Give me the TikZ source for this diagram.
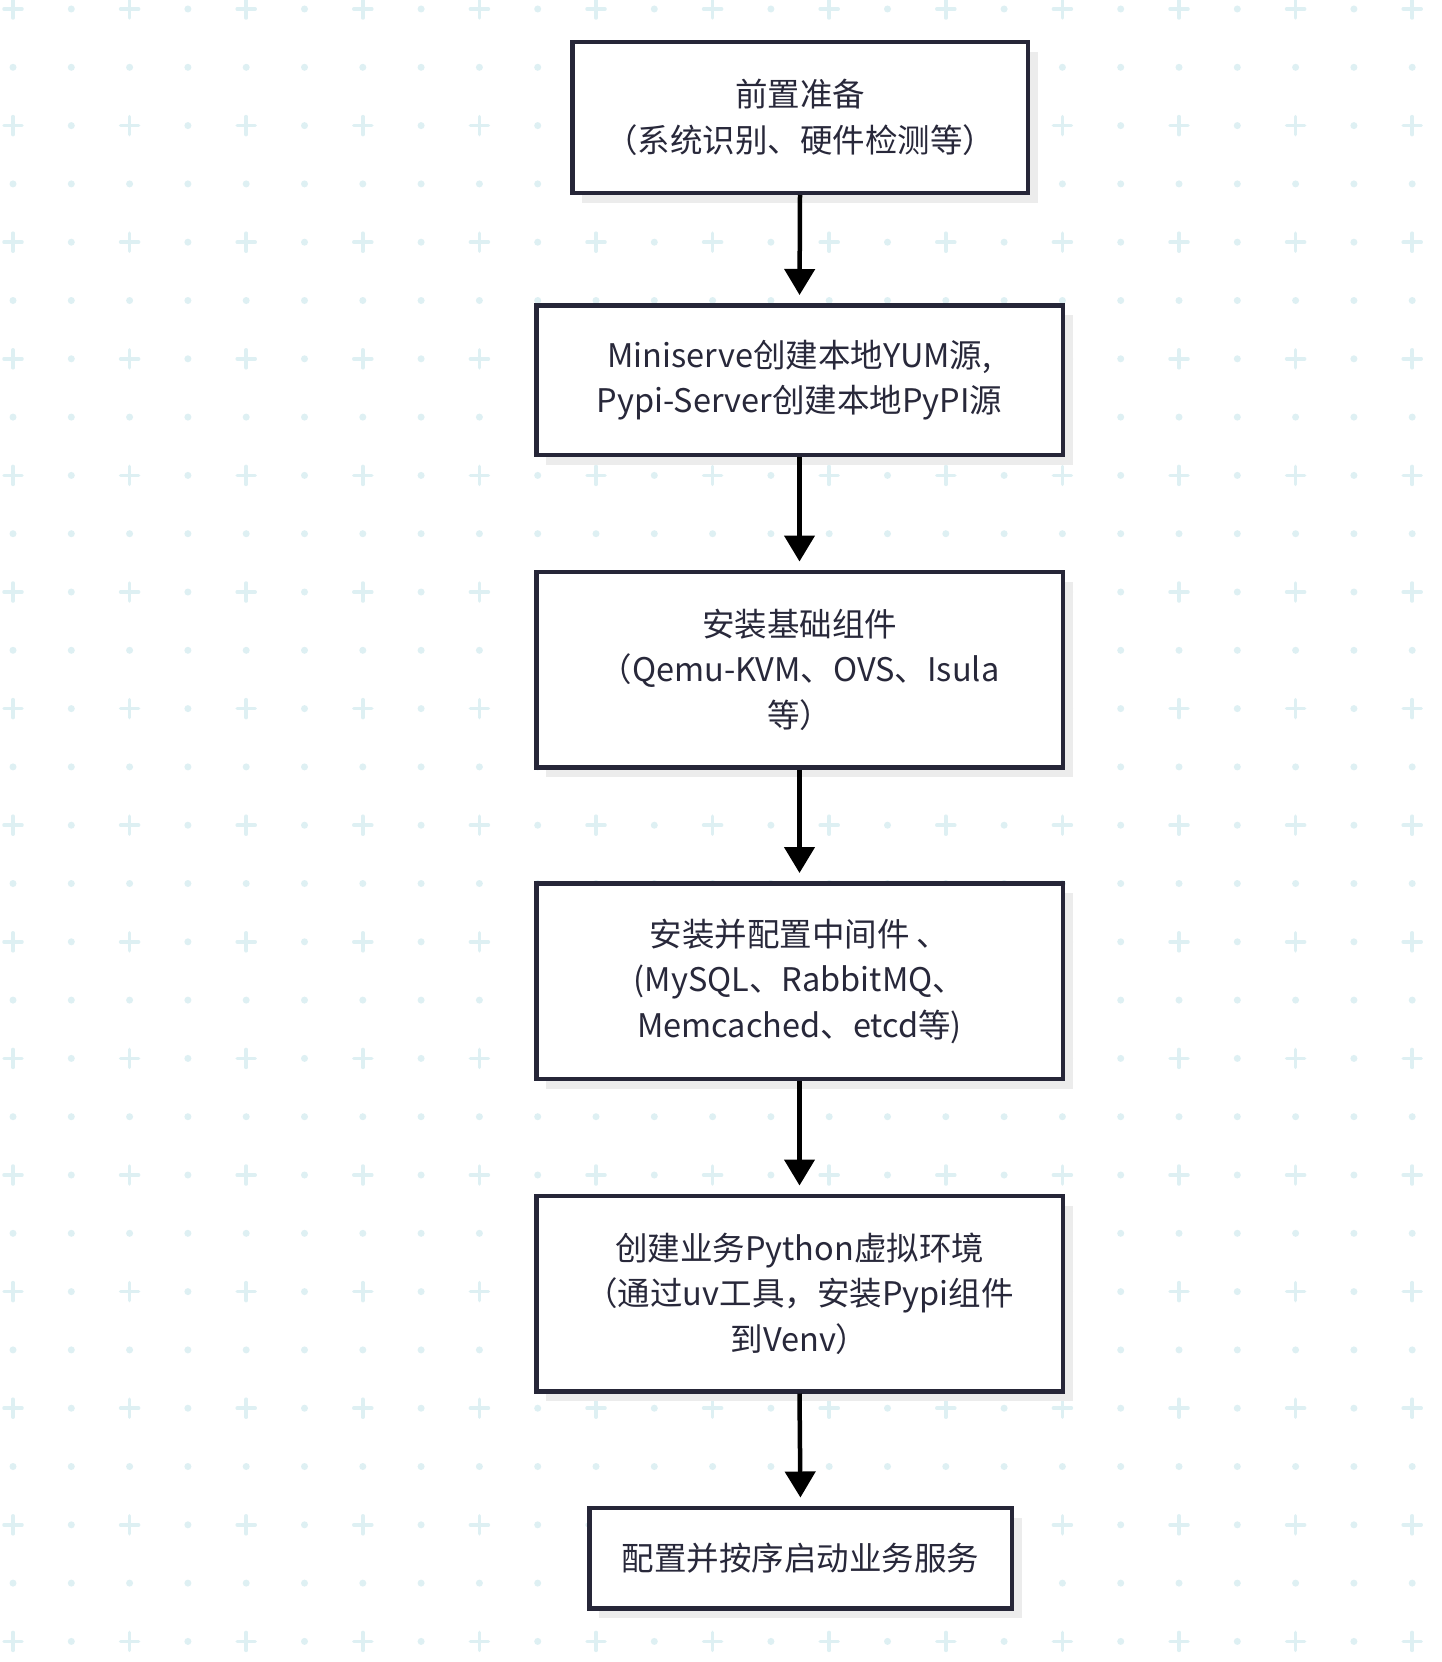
\documentclass[tikz,border=0pt]{standalone}
\usepackage{fontspec}
\setmainfont{Noto Sans CJK SC}
\usetikzlibrary{arrows.meta,shadows}
\definecolor{gridc}{RGB}{222,240,243}
\definecolor{ink}{RGB}{40,40,58}
\definecolor{edge}{RGB}{38,38,56}
\definecolor{shade}{RGB}{236,236,236}
\tikzset{
  stepbox/.style={draw=edge, line width=4.5pt, fill=white, text=ink, align=center,
    inner sep=0pt, font=\fontsize{32.5}{45.5}\selectfont,
    drop shadow={shadow xshift=10pt, shadow yshift=-10pt, fill=shade, opacity=1}},
  flow/.style={draw=black, line width=4.5pt, -{Triangle[width=30pt,length=26pt]}, shorten >=8pt},
  gplus/.style={draw=gridc, line width=3.5pt, line cap=round},
  gdot/.style={fill=gridc, draw=none},
}
\begin{document}
\begin{tikzpicture}[x=1pt,y=-1pt]
\useasboundingbox (0,0) rectangle (1442,1662);
\fill[white] (0,0) rectangle (1442,1662);
% background pattern
\foreach \i in {0,...,24}{
  \foreach \j in {0,...,28}{
    \pgfmathsetmacro\xx{13+58.3*\i}
    \pgfmathsetmacro\yy{9+58.3*\j}
    \pgfmathtruncatemacro\kind{mod(\i,2)+mod(\j,2)}
    \ifnum\kind=0
      \draw[gplus] (\xx-9,\yy) -- (\xx+9,\yy) (\xx,\yy-9) -- (\xx,\yy+9);
    \else
      \fill[gdot] (\xx,\yy) circle[radius=3.5pt];
    \fi
  }
}
% boxes
\node[stepbox, minimum width=455.5pt, minimum height=150.5pt] (b1) at (800,117.5)
  {前置准备\\（系统识别、硬件检测等）};
\node[stepbox, minimum width=526.5pt, minimum height=149.5pt] (b2) at (799.5,380)
  {Miniserve创建本地YUM源,\\Pypi-Server创建本地PyPI源};
\node[stepbox, minimum width=526.5pt, minimum height=195.5pt] (b3) at (799.5,669.5)
  {安装基础组件\\（Qemu-KVM、OVS、Isula\\等）};
\node[stepbox, minimum width=526.5pt, minimum height=195.5pt] (b4) at (799.5,981)
  {安装并配置中间件 、\\(MySQL、RabbitMQ、\\Memcached、etcd等)};
\node[stepbox, minimum width=526.5pt, minimum height=195.5pt] (b5) at (799.5,1293.5)
  {创建业务Python虚拟环境\\（通过uv工具，安装Pypi组件\\到Venv）};
\node[stepbox, minimum width=422.5pt, minimum height=100.5pt] (b6) at (800.5,1558)
  {配置并按序启动业务服务};
% connectors
\draw[flow] (b1.south) -- (b2.north);
\draw[flow] (b2.south) -- (b3.north);
\draw[flow] (b3.south) -- (b4.north);
\draw[flow] (b4.south) -- (b5.north);
\draw[flow] (b5.south) -- (b6.north);
\end{tikzpicture}
\end{document}
